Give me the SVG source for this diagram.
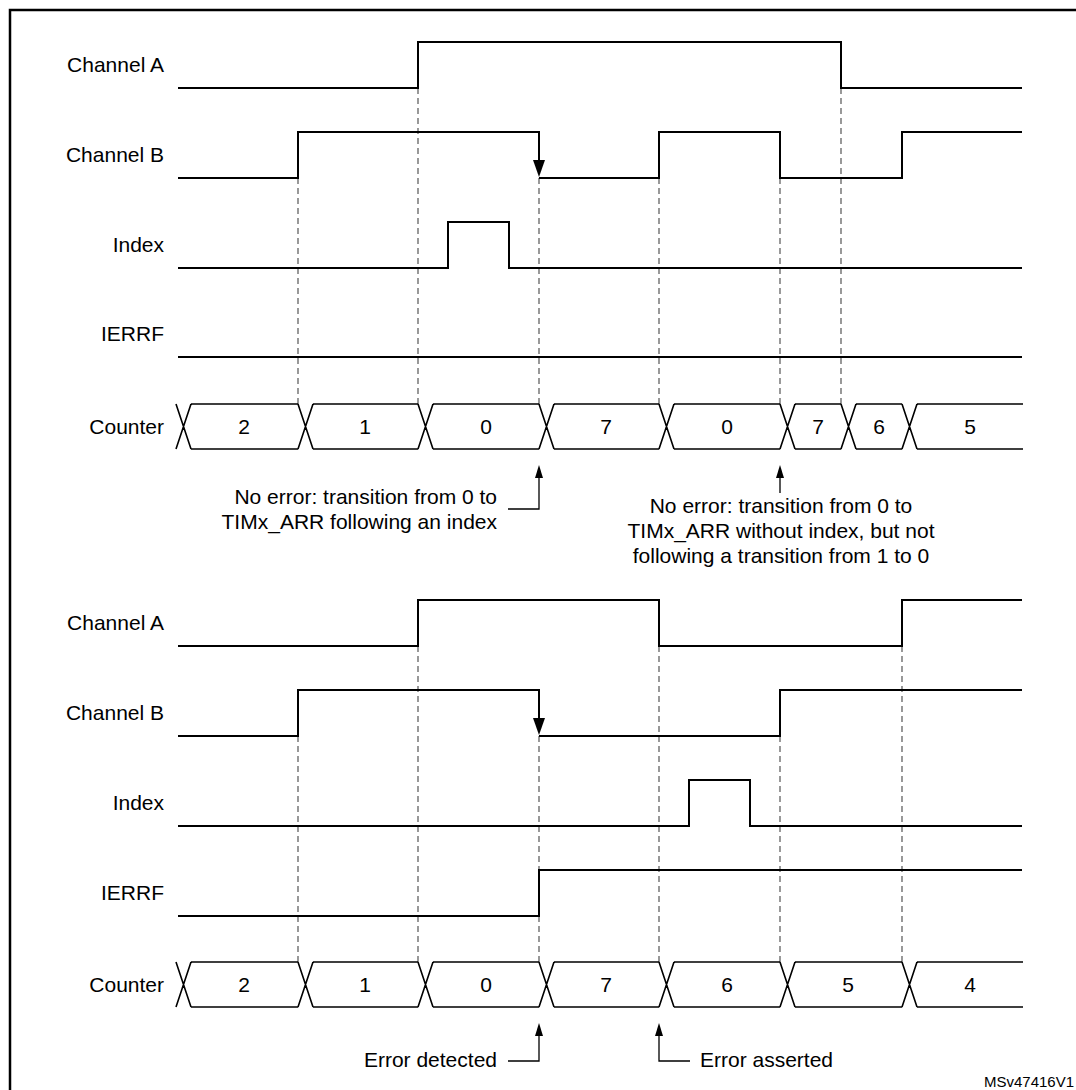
<svg xmlns="http://www.w3.org/2000/svg" width="1076" height="1090" viewBox="0 0 1076 1090">
<style>
text{font-family:"Liberation Sans",Arial,sans-serif;font-size:21px;fill:#000}
.lbl{text-anchor:end}
.val{text-anchor:middle}
.sig{fill:none;stroke:#000;stroke-width:2}
.bus{fill:none;stroke:#000;stroke-width:1.6}
.dash{fill:none;stroke:#555;stroke-width:1.2;stroke-dasharray:6 4}
.ann{fill:none;stroke:#000;stroke-width:1.3}
</style>
<rect width="1076" height="1090" fill="#fff"/>
<path d="M10,1090 V10 H1076" fill="none" stroke="#000" stroke-width="2.5"/>

<g id="connectors">
  <path class="dash" d="M298,178 V404 M418,88 V404 M539,178 V404 M659,178 V404 M780,178 V404 M841,88 V404"/>
  <path class="dash" d="M298,736 V962 M418,646 V962 M539,736 V962 M659,646 V962 M780,736 V962 M902,646 V962"/>
  <path class="ann" d="M508,509 H539 V475 M780,493 V475"/>
  <polygon points="539,465 535,478 543,478"/>
  <polygon points="780,465 776,478 784,478"/>
  <path class="ann" d="M508,1061 H539 V1033 M690,1061 H659 V1033"/>
  <polygon points="539,1023 535,1036 543,1036"/>
  <polygon points="659,1023 655,1036 663,1036"/>
</g>

<g id="top-channel-a">
  <text class="lbl" x="164" y="72">Channel A</text>
  <path class="sig" d="M178,88 H418 V42 H841 V88 H1022"/>
</g>
<g id="top-channel-b">
  <text class="lbl" x="164" y="162">Channel B</text>
  <path class="sig" d="M178,178 H298 V132 H539 V162"/>
  <polygon points="539,177 533,160 545,160"/>
  <path class="sig" d="M539,178 H659 V132 H780 V178 H902 V132 H1022"/>
</g>
<g id="top-index">
  <text class="lbl" x="164" y="252">Index</text>
  <path class="sig" d="M178,268 H448 V222 H509 V268 H1022"/>
</g>
<g id="top-ierrf">
  <text class="lbl" x="164" y="341">IERRF</text>
  <path class="sig" d="M178,357 H1022"/>
</g>
<g id="top-counter">
  <text class="lbl" x="164" y="434">Counter</text>
  <path class="bus" d="M176,404 L191,449 M176,449 L191,404
    M298,404 L313,449 M298,449 L313,404
    M418,404 L433,449 M418,449 L433,404
    M539,404 L554,449 M539,449 L554,404
    M659,404 L674,449 M659,449 L674,404
    M780,404 L795,449 M780,449 L795,404
    M841,404 L856,449 M841,449 L856,404
    M902,404 L917,449 M902,449 L917,404
    M191,404 H298 M191,449 H298
    M313,404 H418 M313,449 H418
    M433,404 H539 M433,449 H539
    M554,404 H659 M554,449 H659
    M674,404 H780 M674,449 H780
    M795,404 H841 M795,449 H841
    M856,404 H902 M856,449 H902
    M917,404 H1023 M917,449 H1023"/>
  <text class="val" x="244" y="434">2</text>
  <text class="val" x="365" y="434">1</text>
  <text class="val" x="486" y="434">0</text>
  <text class="val" x="606" y="434">7</text>
  <text class="val" x="727" y="434">0</text>
  <text class="val" x="818" y="434">7</text>
  <text class="val" x="879" y="434">6</text>
  <text class="val" x="970" y="434">5</text>
</g>
<g id="note-top-left">
  <text class="lbl" x="497" y="504">No error: transition from 0 to</text>
  <text class="lbl" x="497" y="529">TIMx_ARR following an index</text>
</g>
<g id="note-top-right">
  <text class="val" x="781" y="513">No error: transition from 0 to</text>
  <text class="val" x="781" y="538">TIMx_ARR without index, but not</text>
  <text class="val" x="781" y="563">following a transition from 1 to 0</text>
</g>

<g id="bottom-channel-a">
  <text class="lbl" x="164" y="630">Channel A</text>
  <path class="sig" d="M178,646 H418 V600 H659 V646 H902 V600 H1022"/>
</g>
<g id="bottom-channel-b">
  <text class="lbl" x="164" y="720">Channel B</text>
  <path class="sig" d="M178,736 H298 V690 H539 V720"/>
  <polygon points="539,735 533,718 545,718"/>
  <path class="sig" d="M539,736 H780 V690 H1022"/>
</g>
<g id="bottom-index">
  <text class="lbl" x="164" y="810">Index</text>
  <path class="sig" d="M178,826 H689 V780 H750 V826 H1022"/>
</g>
<g id="bottom-ierrf">
  <text class="lbl" x="164" y="900">IERRF</text>
  <path class="sig" d="M178,916 H539 V870 H1022"/>
</g>
<g id="bottom-counter">
  <text class="lbl" x="164" y="992">Counter</text>
  <path class="bus" d="M176,962 L191,1007 M176,1007 L191,962
    M298,962 L313,1007 M298,1007 L313,962
    M418,962 L433,1007 M418,1007 L433,962
    M539,962 L554,1007 M539,1007 L554,962
    M659,962 L674,1007 M659,1007 L674,962
    M780,962 L795,1007 M780,1007 L795,962
    M902,962 L917,1007 M902,1007 L917,962
    M191,962 H298 M191,1007 H298
    M313,962 H418 M313,1007 H418
    M433,962 H539 M433,1007 H539
    M554,962 H659 M554,1007 H659
    M674,962 H780 M674,1007 H780
    M795,962 H902 M795,1007 H902
    M917,962 H1023 M917,1007 H1023"/>
  <text class="val" x="244" y="992">2</text>
  <text class="val" x="365" y="992">1</text>
  <text class="val" x="486" y="992">0</text>
  <text class="val" x="606" y="992">7</text>
  <text class="val" x="727" y="992">6</text>
  <text class="val" x="848" y="992">5</text>
  <text class="val" x="970" y="992">4</text>
</g>
<g id="note-bottom">
  <text class="lbl" x="497" y="1067">Error detected</text>
  <text x="700" y="1067">Error asserted</text>
</g>
<text x="984" y="1087" style="font-size:15px">MSv47416V1</text>
</svg>
